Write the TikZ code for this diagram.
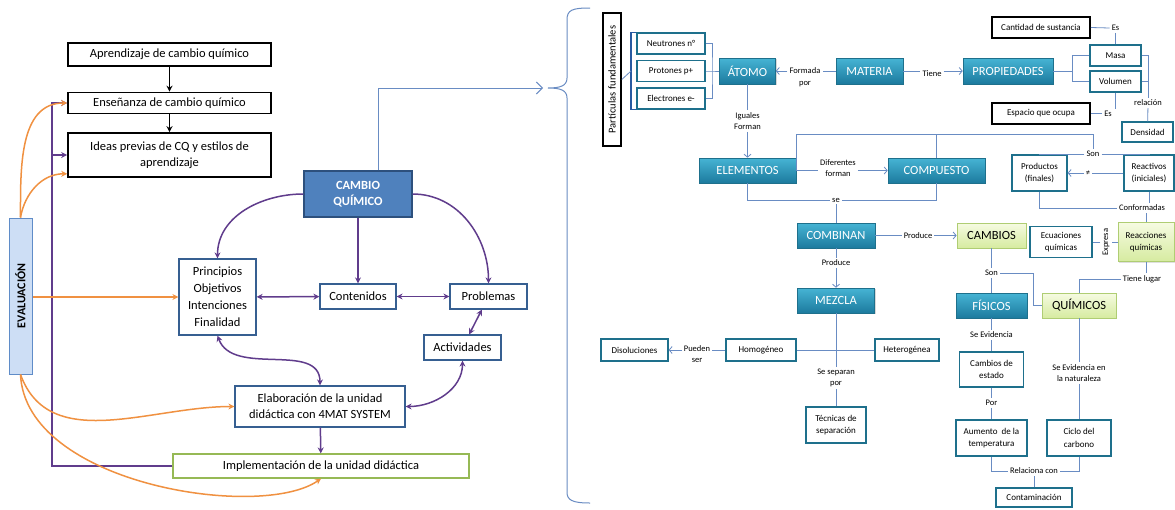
\documentclass[tikz,border=0pt]{standalone}
\usepackage{fontspec}
\setmainfont{Carlito}
\usetikzlibrary{arrows.meta,positioning,calc,shadows}
\definecolor{boxblue}{RGB}{54,95,145}
\definecolor{cqfill}{RGB}{79,129,189}
\definecolor{cqdraw}{RGB}{45,80,125}
\definecolor{evalfill}{RGB}{205,222,245}
\definecolor{evaldraw}{RGB}{95,140,200}
\definecolor{purp1}{RGB}{96,60,140}
\definecolor{orange1}{RGB}{240,145,65}
\definecolor{implgreen}{RGB}{150,185,85}
\definecolor{tealtop}{RGB}{70,180,212}
\definecolor{tealbot}{RGB}{28,122,158}
\definecolor{tealdraw}{RGB}{30,112,140}
\definecolor{greentop}{RGB}{246,251,226}
\definecolor{greenbot}{RGB}{214,235,160}
\definecolor{greendraw}{RGB}{175,205,115}
\definecolor{linkblue}{RGB}{105,140,195}
\definecolor{bracketblue}{RGB}{40,90,160}

\begin{document}
\begin{tikzpicture}[x=1pt,y=-1pt,
kbox/.style={draw=black,line width=1.6pt,fill=white,align=center},
lbox/.style={draw=boxblue,line width=1.2pt,fill=white,align=center,font=\fontsize{12.5}{16}\selectfont},
bigtxt/.style={font=\fontsize{12.5}{16}\selectfont},
smalltxt/.style={font=\fontsize{9}{12.5}\selectfont},
tbox/.style={draw=tealdraw,line width=0.6pt,top color=tealtop,bottom color=tealbot,text=white,font=\fontsize{12.5}{15}\selectfont,drop shadow={opacity=0.3,shadow xshift=1pt,shadow yshift=-1.2pt}},
gbox/.style={draw=greendraw,line width=0.8pt,top color=greentop,bottom color=greenbot,align=center,font=\fontsize{12.5}{15}\selectfont,drop shadow={opacity=0.25,shadow xshift=1pt,shadow yshift=-1.2pt}},
wbox/.style={draw=tealdraw,line width=1.3pt,fill=white,align=center,font=\fontsize{9}{12.5}\selectfont},
lbl/.style={align=center,font=\fontsize{8.5}{11.5}\selectfont,inner sep=2pt},
link/.style={draw=linkblue,line width=0.8pt},
linkarr/.style={link,-{Straight Barb[length=3pt,width=7pt]}},
blkarr/.style={line width=1.5pt,-{Stealth[length=6pt,width=6pt]}},
purparr/.style={draw=purp1,line width=1.5pt,-{Stealth[length=6pt,width=6pt]}},
purpboth/.style={draw=purp1,line width=1.5pt,{Stealth[length=6pt,width=6pt]}-{Stealth[length=6pt,width=6pt]}},
oranarr/.style={draw=orange1,line width=1.5pt,-{Stealth[length=6pt,width=6pt]}}]
\useasboundingbox[fill=white] (0,0) rectangle (1175,509);

\node[kbox,bigtxt,minimum width=203pt,minimum height=23pt] (aprend) at (169.5,54.5) {Aprendizaje de cambio químico};
\node[kbox,bigtxt,minimum width=203pt,minimum height=21pt] (ensen) at (169.5,103) {Enseñanza de cambio químico};
\node[kbox,bigtxt,minimum width=203pt,minimum height=44pt] (ideas) at (169.5,155) {Ideas previas de CQ y estilos de\\aprendizaje};
\node[draw=evaldraw,fill=evalfill,line width=1pt,rotate=90,minimum width=156pt,minimum height=23pt,font=\fontsize{12}{14}\selectfont\bfseries] (eval) at (20.5,296) {EVALUACIÓN};
\node[draw=cqdraw,fill=cqfill,line width=1.2pt,minimum width=108pt,minimum height=46pt,align=center,text=white,font=\fontsize{12.5}{16.5}\selectfont\bfseries] (cambio) at (358,194) {CAMBIO\\QUÍMICO};
\node[lbox,minimum width=77pt,minimum height=76pt,font=\fontsize{12.5}{17}\selectfont] (princ) at (217.5,297) {Principios\\Objetivos\\Intenciones\\Finalidad};
\node[lbox,minimum width=76pt,minimum height=25pt] (conten) at (358,296.5) {Contenidos};
\node[lbox,minimum width=77pt,minimum height=25pt] (probl) at (488.5,296.5) {Problemas};
\node[lbox,minimum width=77pt,minimum height=25pt] (activ) at (462.5,347.5) {Actividades};
\node[lbox,minimum width=170pt,minimum height=41pt] (elab) at (320,406.5) {Elaboración de la unidad\\didáctica con 4MAT SYSTEM};
\node[lbox,draw=implgreen,minimum width=296pt,minimum height=24pt] (impl) at (321,466) {Implementación de la unidad didáctica};

\foreach \a/\b in {aprend/ensen,ensen/ideas} \draw[blkarr] (\a)--(\b);
\draw[purparr] (cambio.west) to[out=180,in=90] (princ.north);
\draw[purparr] (cambio.east) to[out=0,in=90] (probl.north);
\draw[purparr] (cambio)--(conten);
\foreach \a/\b in {princ/conten,conten/probl,probl/activ} \draw[purpboth] (\a)--(\b);
\draw[purpboth] (princ.south) to[out=-70,in=90] (elab.north);
\draw[purpboth] (activ.south) to[out=-90,in=0] (elab.east);
\draw[purparr] (elab)--(impl);
\coordinate (pbar) at (52,300);
\draw[purparr,line width=2pt] (impl.west) -| (pbar) |- (ensen.west);
\draw[purparr,line width=2pt] (ideas.west -| pbar)--(ideas.west);
\draw[oranarr] (eval.east) to[out=90,in=180] (ensen.west);
\draw[oranarr] (eval.east) to[out=80,in=180] ([yshift=4pt]ideas.south west);
\draw[oranarr] (eval.south |- princ.west)--(princ.west);
\draw[oranarr] (eval.west) to[out=-70,in=180] (elab.west);
\draw[oranarr] (eval.west) .. controls +(5,110) and +(-60,42) .. (impl.south);

\coordinate (btip) at (543,88);
\draw[link,line width=1pt,-{Straight Barb[length=6pt,width=12pt]}] ([xshift=20pt]cambio.north) |- (btip);
\draw[link,line width=1pt] (590,8) .. controls (572,8) and (567,10) .. (567,20) -- (567,78) .. controls (567,86) and (560,88) .. (548,88) .. controls (560,88) and (567,90) .. (567,98) -- (567,492) .. controls (567,500) and (572,503) .. (590,503);

\node[kbox,line width=1.6pt,rotate=90,minimum width=133pt,minimum height=18pt,inner sep=1pt,font=\fontsize{10.5}{12}\selectfont] (partic) at (612,79.5) {Partículas fundamentales};
\node[wbox,minimum width=68pt,minimum height=21pt] (neutr) at (671,43.5) {Neutrones n°};
\node[wbox,minimum width=68pt,minimum height=21pt] (proto) at (671,71) {Protones p+};
\node[wbox,minimum width=68pt,minimum height=21pt] (elect) at (671,98.5) {Electrones e-};
\node[tbox,minimum width=56pt,minimum height=26pt] (atomo) at (747.5,71) {ÁTOMO};
\node[tbox,minimum width=67pt,minimum height=26pt] (materia) at (869.5,71) {MATERIA};
\node[tbox,minimum width=90pt,minimum height=26pt] (propied) at (1008,71) {PROPIEDADES};
\node[wbox,minimum width=51pt,minimum height=21pt] (masa) at (1115.5,55.5) {Masa};
\node[wbox,minimum width=51pt,minimum height=21pt] (volum) at (1115.5,81.5) {Volumen};
\node[kbox,smalltxt,minimum width=98pt,minimum height=21pt] (cantid) at (1041,27.5) {Cantidad de sustancia};
\node[kbox,smalltxt,minimum width=98pt,minimum height=21pt] (espacio) at (1041,113.5) {Espacio que ocupa};
\node[wbox,minimum width=51pt,minimum height=20pt] (densid) at (1147.5,132) {Densidad};
\node[tbox,minimum width=97pt,minimum height=25pt] (elemen) at (747.5,170.5) {ELEMENTOS};
\node[tbox,minimum width=97pt,minimum height=25pt] (compue) at (936.5,170.5) {COMPUESTO};
\node[wbox,minimum width=55pt,minimum height=36pt] (product) at (1039.5,173) {Productos\\(finales)};
\node[wbox,minimum width=50pt,minimum height=36pt] (reactiv) at (1149,173) {Reactivos\\(iniciales)};
\node[tbox,minimum width=78pt,minimum height=25pt] (combin) at (836,235.5) {COMBINAN};
\node[gbox,minimum width=69pt,minimum height=25pt] (cambios) at (991.5,235.5) {CAMBIOS};
\node[wbox,minimum width=62pt,minimum height=31pt] (ecuac) at (1061,242) {Ecuaciones\\químicas};
\node[gbox,minimum width=56pt,minimum height=39pt,font=\fontsize{9}{12.5}\selectfont] (reacc) at (1146,242) {Reacciones\\químicas};
\node[tbox,minimum width=77pt,minimum height=25pt] (mezcla) at (836,300.5) {MEZCLA};
\node[tbox,minimum width=71pt,minimum height=25pt] (fisicos) at (991.5,305.5) {FÍSICOS};
\node[gbox,minimum width=74pt,minimum height=25pt] (quimic) at (1079,305.5) {QUÍMICOS};
\node[wbox,minimum width=67pt,minimum height=22pt] (disol) at (634.5,350) {Disoluciones};
\node[wbox,minimum width=70pt,minimum height=22pt] (homog) at (761,350) {Homogéneo};
\node[wbox,minimum width=64pt,minimum height=22pt] (heterog) at (907,350) {Heterogénea};
\node[wbox,minimum width=60pt,minimum height=36pt] (tecnic) at (836,425) {Técnicas de\\separación};
\node[wbox,minimum width=64pt,minimum height=35pt] (cambest) at (991.5,369.5) {Cambios de\\estado};
\node[wbox,minimum width=71pt,minimum height=36pt] (aument) at (991.5,438) {Aumento~ de la\\temperatura};
\node[wbox,minimum width=64pt,minimum height=36pt] (ciclo) at (1079,438) {Ciclo del\\carbono};
\node[wbox,minimum width=76pt,minimum height=19pt] (contam) at (1034,497.5) {Contaminación};

\node[lbl] (lformada) at (805,77) {Formada\\por};
\node[lbl] (ltiene) at (932,74) {Tiene};
\node[lbl] (les1) at (1115.5,28) {Es};
\node[lbl] (les2) at (1108,114) {Es};
\node[lbl] (lrelac) at (1148,103) {relación};
\node[lbl] (liguales) at (747.5,121) {Iguales\\Forman};
\node[lbl] (ldifer) at (838,168) {Diferentes\\forman};
\node[lbl] (lse) at (836,200) {se};
\node[lbl] (lson1) at (1093,154) {Son};
\node[lbl] (lneq) at (1088,173) {≠};
\node[lbl] (lconform) at (1142,208) {Conformadas};
\node[lbl] (lprod1) at (918,235.5) {Produce};
\node[lbl] (lprod2) at (836,263) {Produce};
\node[lbl,rotate=90] (lexpresa) at (1106,242) {Expresa};
\node[lbl] (lson2) at (991.5,273) {Son};
\node[lbl] (ltiene2) at (1142,279) {Tiene lugar};
\node[lbl] (lpueden) at (697,354) {Pueden\\ser};
\node[lbl] (lsesep) at (836,378) {Se separan\\por};
\node[lbl] (lseev1) at (991.5,335) {Se Evidencia};
\node[lbl] (lseev2) at (1079,373) {Se Evidencia en\\la naturaleza};
\node[lbl] (lpor) at (991.5,403) {Por};
\node[lbl] (lrelcon) at (1034,471) {Relaciona con};

\coordinate (brkl) at (631,71);
\coordinate (brkr) at (712,71);
\coordinate (brkp) at (1072,71);
\coordinate (qcorner) at (1033,290);
\draw[draw=bracketblue,line width=1.5pt] (neutr.north west) -| (brkl) |- (elect.south west);
\draw[link] (partic.south)--(brkl);
\draw[link] (neutr.east) -| (brkr) |- (elect.east);
\draw[link] (proto.east)--(brkr)--(atomo.west);
\draw[link] (materia.west)--(materia.west -| lformada.east);
\draw[linkarr] (atomo.east -| lformada.west)--(atomo.east);
\draw[link] (materia.east)--(materia.east -| ltiene.west);
\draw[linkarr] (propied.west -| ltiene.east)--(propied.west);
\draw[link] (propied.east)--(brkp);
\draw[link] (masa.west) -| (brkp) |- (volum.west);
\draw[link] (cantid.east)--(les1.west);
\draw[link] (les1)--(masa);
\draw[link] (espacio.east)--(espacio.east -| les2.west);
\draw[link] (volum.south)--(volum.south |- les2.north);
\draw[link] (masa.east) -| (lrelac.north);
\draw[link] (volum.east)--(volum.east -| lrelac.north);
\draw[link] (lrelac)--(densid);
\draw[link] (atomo)--(liguales);
\draw[linkarr] (liguales)--(elemen);
\draw[link] (elemen.east)--(elemen.east -| ldifer.west);
\draw[linkarr] (compue.west -| ldifer.east)--(compue.west);
\draw[link] (elemen.east) -- ++(0,-36) -| (lson1.north);
\draw[link] (compue.north) -- ++(0,-23.5);
\draw[link] (lson1.west) -| (product.north);
\draw[link] (lson1.east) -| (reactiv.north);
\draw[link] (reactiv.west)--(lneq);
\draw[linkarr] (lneq)--(product.east);
\draw[link] (product.south) |- (lconform.west);
\draw[link] (reactiv.south)--(reactiv.south |- lconform.north);
\draw[link] (reacc.north |- lconform.south)--(reacc.north);
\draw[link] (elemen.south) |- (lse.west);
\draw[link] (compue.south) |- (lse.east);
\draw[link] (lse)--(combin);
\draw[link] (combin)--(lprod1);
\draw[linkarr] (lprod1)--(cambios);
\draw[link] (combin)--(lprod2);
\draw[linkarr] (lprod2)--(mezcla);
\draw[link] (reacc.west)--(lexpresa);
\draw[link] (lexpresa)--(ecuac.east);
\draw[link] (cambios)--(lson2);
\draw[link] (lson2)--(fisicos);
\draw[link] (lson2.east) -| (qcorner) |- (quimic.west);
\draw[link] (reacc.south)--(reacc.south |- ltiene2.north);
\draw[link] (ltiene2.west) -| (quimic.north);
\draw[link] (mezcla)--(lsesep);
\draw[link] (homog)--(heterog);
\draw[link] (lsesep)--(tecnic);
\draw[link] (homog.west)--(homog.west -| lpueden.east);
\draw[linkarr] (disol.east -| lpueden.west)--(disol.east);
\foreach \a/\b in {fisicos/lseev1,lseev1/cambest,cambest/lpor,lpor/aument,quimic/lseev2,lseev2/ciclo,lrelcon/contam} \draw[link] (\a)--(\b);
\draw[link] (aument.south) |- (lrelcon.west);
\draw[link] (ciclo.south) |- (lrelcon.east);
\end{tikzpicture}
\end{document}
